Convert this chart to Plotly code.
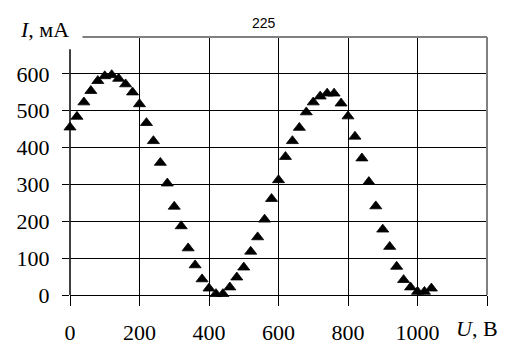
import plotly.graph_objects as go

# Data
voltage_V = [0, 20, 40, 60, 80, 100, 120, 140, 160, 180, 200, 220, 240, 260, 280,
             300, 320, 340, 360, 380, 400, 420, 440, 460, 480, 500, 520, 540, 560,
             580, 600, 620, 640, 660, 680, 700, 720, 740, 760, 780, 800, 820, 840,
             860, 880, 900, 920, 940, 960, 980, 1000, 1020, 1040]
current_mA = [455, 484, 523, 554, 581, 594, 597, 587, 572, 550, 518, 467, 418, 359, 303,
              240, 187, 127, 81, 43, 18, 3, 3, 21, 48, 75, 118, 157, 205,
              261, 312, 375, 418, 454, 496, 523, 539, 547, 547, 520, 485, 430, 371,
              307, 241, 178, 131, 77, 41, 21, 9, 9, 18]

x_tickvals = [0, 200, 400, 600, 800, 1000, 1200]
x_ticktext = ["0", "200", "400", "600", "800", "1000", ""]
y_tickvals = [0, 100, 200, 300, 400, 500, 600]
y_ticktext = ["0", "100", "200", "300", "400", "500", "600"]
x_range = [0, 1200]
y_range = [0, 700]

serif = "Liberation Serif, Times New Roman, serif"
fsize = 22

fig = go.Figure()
fig.add_trace(go.Scatter(
    x=voltage_V, y=current_mA, mode="markers",
    marker=dict(symbol="triangle-up", size=10.5, color="black",
                line=dict(color="black", width=0.8)),
    cliponaxis=False, showlegend=False,
))

# page body adds an 8px offset, so margins are shifted by 8px
fig.update_layout(
    width=499, height=346,
    margin=dict(l=62, r=20, t=29, b=59, pad=0, autoexpand=False),
    paper_bgcolor="white", plot_bgcolor="white",
    font=dict(family=serif, size=fsize, color="black"),
    xaxis=dict(range=x_range, tickvals=x_tickvals, ticktext=x_ticktext,
               automargin=False,
               showgrid=True, gridcolor="black", gridwidth=1,
               zeroline=False, showline=True, linecolor="black", linewidth=1,
               ticks="outside", ticklen=10, tickcolor="black", tickwidth=1,
               ticklabelstandoff=8, tickfont=dict(family=serif, size=fsize)),
    yaxis=dict(range=y_range, tickvals=y_tickvals, ticktext=y_ticktext,
               automargin=False,
               showgrid=True, gridcolor="black", gridwidth=1,
               zeroline=False, showline=False,
               ticks="outside", ticklen=7, tickcolor="black", tickwidth=1,
               ticklabelstandoff=8, tickfont=dict(family=serif, size=fsize)),
    shapes=[
        dict(type="line", xref="paper", yref="paper", x0=0.03, x1=1, y0=1, y1=1,
             line=dict(color="#808080", width=2)),
        dict(type="line", xref="paper", yref="paper", x0=1, x1=1, y0=0, y1=1,
             line=dict(color="#808080", width=2)),
        dict(type="line", xref="paper", yref="paper", x0=0, x1=0, y0=0, y1=0.953,
             line=dict(color="black", width=1.5)),
    ],
)

fig.add_annotation(text="<i>I</i>, мА", xref="paper", yref="paper",
                   x=-0.062, y=1.031, showarrow=False, xanchor="center", yanchor="middle",
                   font=dict(family=serif, size=fsize, color="black"))
fig.add_annotation(text="<i>U</i>, В", xref="paper", yref="paper",
                   x=1.03, y=-0.13, showarrow=False, xanchor="right", yanchor="middle",
                   font=dict(family=serif, size=fsize, color="black"))
fig.add_annotation(text="225", xref="paper", yref="paper",
                   x=0.465, y=1.054, showarrow=False, xanchor="center", yanchor="middle",
                   font=dict(family="Liberation Sans, Arial, sans-serif", size=14, color="black"))

fig.write_html("out.html")
